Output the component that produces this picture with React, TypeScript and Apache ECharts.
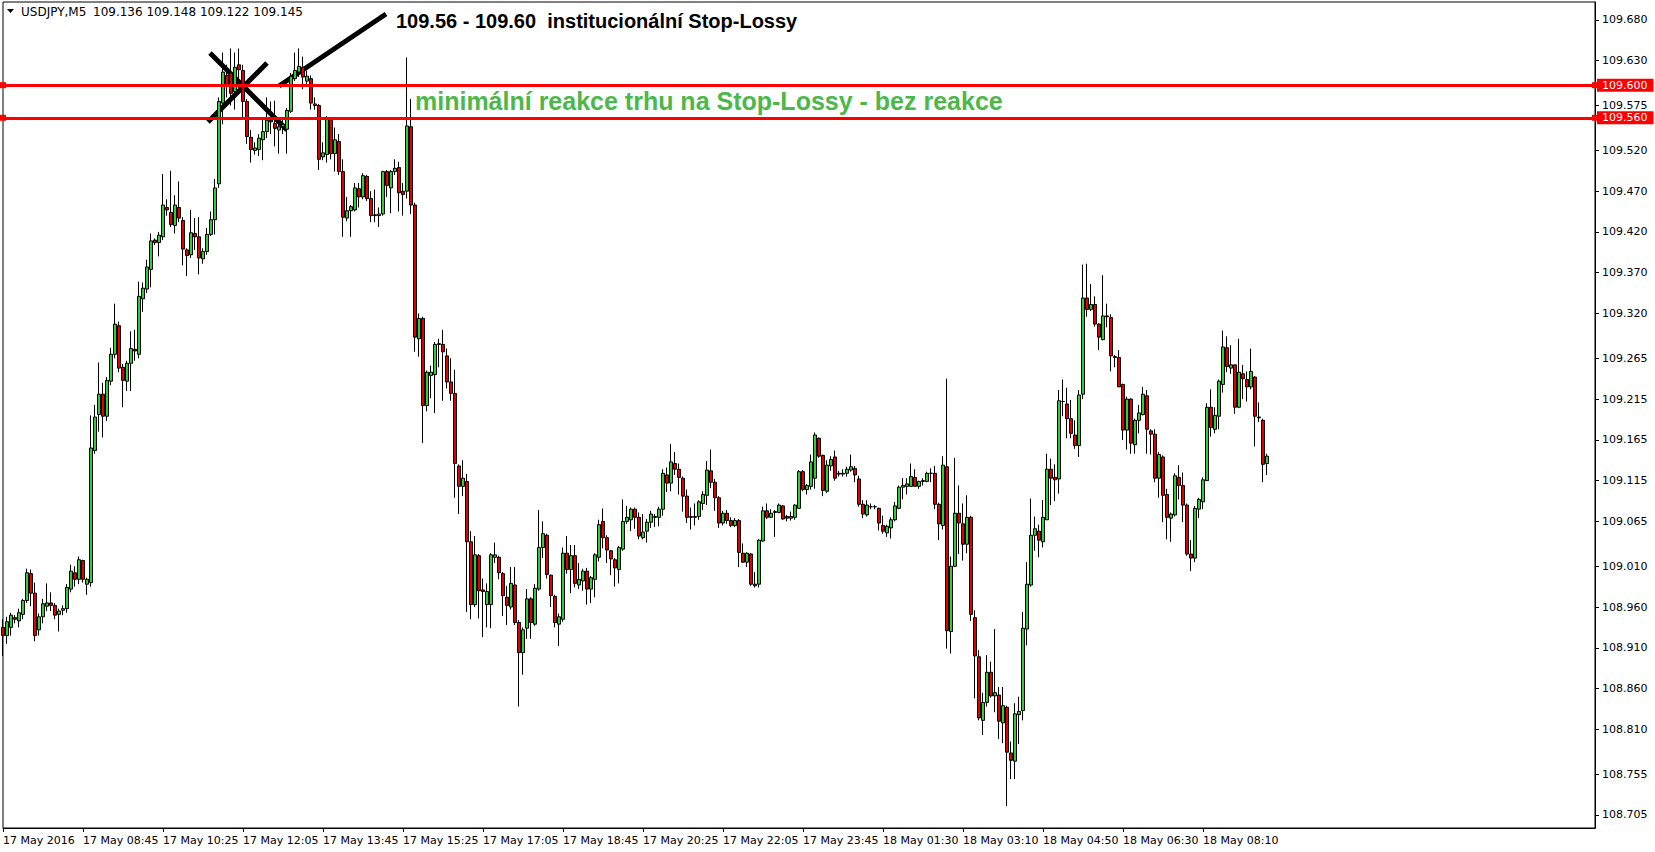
import React, { useEffect, useRef } from "react";
import * as echarts from "echarts";

// [open, close, low, high]
const candles: number[][] = [
  [108.935,108.925,108.900,108.945],[108.925,108.942,108.915,108.948],[108.935,108.950,108.925,108.953],[108.947,108.945,108.940,108.950],
  [108.943,108.953,108.935,108.958],[108.951,108.968,108.945,108.970],[108.968,109.002,108.965,109.007],[109.001,108.977,108.961,109.006],
  [108.977,108.925,108.918,108.990],[108.932,108.948,108.925,108.952],[108.948,108.964,108.940,108.970],[108.961,108.965,108.955,108.989],
  [108.965,108.962,108.955,108.978],[108.962,108.950,108.945,108.965],[108.951,108.955,108.930,108.958],[108.956,108.958,108.950,108.962],
  [108.958,108.984,108.953,108.988],[108.982,109.004,108.978,109.012],[109.002,108.994,108.985,109.010],[108.994,109.018,108.988,109.022],
  [109.017,108.994,108.990,109.018],[108.988,108.994,108.975,108.996],[108.990,109.155,108.985,109.195],[109.152,109.193,109.148,109.208],
  [109.196,109.221,109.175,109.260],[109.221,109.194,109.168,109.235],[109.194,109.238,109.188,109.242],[109.237,109.270,109.232,109.278],
  [109.270,109.307,109.265,109.332],[109.305,109.253,109.248,109.310],[109.254,109.238,109.205,109.258],[109.237,109.259,109.225,109.262],
  [109.259,109.277,109.225,109.298],[109.276,109.274,109.262,109.300],[109.270,109.341,109.265,109.359],[109.338,109.351,109.322,109.358],
  [109.350,109.377,109.345,109.386],[109.374,109.409,109.352,109.418],[109.410,109.407,109.404,109.412],[109.407,109.416,109.390,109.420],
  [109.414,109.453,109.410,109.491],[109.450,109.447,109.440,109.460],[109.444,109.429,109.426,109.495],[109.428,109.453,109.418,109.465],
  [109.450,109.437,109.432,109.482],[109.434,109.399,109.379,109.438],[109.398,109.391,109.366,109.400],[109.392,109.419,109.388,109.447],
  [109.418,109.414,109.398,109.437],[109.414,109.388,109.368,109.438],[109.387,109.396,109.381,109.400],[109.396,109.417,109.392,109.425],
  [109.417,109.435,109.415,109.445],[109.435,109.474,109.417,109.485],[109.479,109.580,109.474,109.585],[109.578,109.616,109.552,109.640],
  [109.612,109.600,109.585,109.625],[109.615,109.590,109.575,109.645],[109.592,109.622,109.570,109.640],[109.625,109.619,109.595,109.645],
  [109.618,109.580,109.560,109.625],[109.580,109.537,109.528,109.583],[109.536,109.521,109.505,109.545],[109.520,109.523,109.515,109.530],
  [109.521,109.535,109.513,109.540],[109.533,109.543,109.508,109.560],[109.543,109.557,109.535,109.585],[109.557,109.555,109.540,109.580],
  [109.553,109.547,109.525,109.581],[109.545,109.549,109.516,109.560],[109.549,109.552,109.540,109.560],[109.546,109.569,109.516,109.572],
  [109.568,109.611,109.566,109.615],[109.608,109.618,109.605,109.640],[109.616,109.623,109.610,109.645],[109.622,109.610,109.595,109.635],
  [109.605,109.611,109.600,109.618],[109.608,109.578,109.570,109.612],[109.577,109.575,109.570,109.585],[109.575,109.509,109.496,109.577],
  [109.512,109.517,109.508,109.530],[109.515,109.558,109.505,109.562],[109.558,109.516,109.509,109.560],[109.516,109.533,109.494,109.548],
  [109.531,109.494,109.490,109.540],[109.494,109.438,109.414,109.509],[109.437,109.446,109.433,109.463],[109.446,109.451,109.414,109.453],
  [109.447,109.474,109.445,109.480],[109.473,109.463,109.450,109.480],[109.463,109.489,109.460,109.492],[109.488,109.461,109.458,109.490],
  [109.461,109.440,109.432,109.470],[109.441,109.440,109.432,109.472],[109.440,109.442,109.426,109.450],[109.442,109.494,109.440,109.495],
  [109.494,109.477,109.463,109.496],[109.474,109.494,109.443,109.496],[109.494,109.498,109.490,109.509],[109.499,109.468,109.445,109.506],
  [109.470,109.466,109.440,109.480],[109.470,109.550,109.461,109.634],[109.549,109.453,109.442,109.583],[109.453,109.291,109.273,109.456],
  [109.289,109.314,109.267,109.320],[109.314,109.207,109.161,109.316],[109.207,109.248,109.200,109.250],[109.244,109.248,109.216,109.256],
  [109.245,109.282,109.198,109.285],[109.282,109.283,109.254,109.289],[109.282,109.273,109.213,109.300],[109.268,109.236,109.228,109.277],
  [109.236,109.222,109.213,109.265],[109.222,109.136,109.094,109.251],[109.133,109.108,109.074,109.135],[109.108,109.118,109.096,109.140],
  [109.114,109.040,108.954,109.123],[109.040,108.963,108.945,109.053],[108.963,109.024,108.960,109.047],[109.023,108.980,108.946,109.025],
  [108.981,108.979,108.923,108.995],[108.963,108.979,108.935,108.989],[108.963,109.024,108.934,109.026],[109.021,109.024,109.014,109.039],
  [109.021,109.002,108.994,109.023],[109.001,108.974,108.949,109.003],[108.972,108.962,108.938,108.986],[108.960,108.989,108.957,109.009],
  [108.987,108.941,108.938,109.009],[108.941,108.904,108.838,108.944],[108.904,108.932,108.877,108.935],[108.934,108.970,108.921,108.982],
  [108.970,108.941,108.921,108.972],[108.939,108.983,108.937,108.988],[108.982,109.033,108.980,109.079],[109.033,109.050,109.020,109.065],
  [109.048,109.000,108.995,109.050],[108.999,108.974,108.960,109.000],[108.973,108.941,108.935,108.975],[108.939,108.948,108.912,108.952],
  [108.945,109.026,108.942,109.033],[109.026,109.006,109.001,109.047],[109.006,109.023,108.977,109.036],[109.023,108.989,108.984,109.036],
  [108.987,108.994,108.982,109.014],[108.992,109.004,108.980,109.007],[109.004,108.982,108.963,109.008],[108.982,108.996,108.965,108.998],
  [108.994,109.024,108.972,109.026],[109.021,109.061,109.016,109.067],[109.065,109.045,109.032,109.081],[109.045,109.030,109.014,109.048],
  [109.029,109.019,108.999,109.030],[109.018,109.008,108.985,109.020],[109.006,109.033,108.989,109.035],[109.031,109.065,109.029,109.092],
  [109.065,109.070,109.062,109.084],[109.067,109.080,109.053,109.082],[109.080,109.070,109.056,109.082],[109.070,109.047,109.043,109.076],
  [109.045,109.052,109.043,109.074],[109.053,109.064,109.039,109.068],[109.064,109.074,109.057,109.078],[109.071,109.070,109.058,109.074],
  [109.070,109.080,109.059,109.083],[109.080,109.124,109.072,109.129],[109.122,109.112,109.101,109.131],[109.112,109.138,109.102,109.160],
  [109.136,109.129,109.122,109.150],[109.129,109.119,109.098,109.136],[109.118,109.096,109.077,109.120],[109.096,109.070,109.063,109.104],
  [109.071,109.070,109.055,109.082],[109.070,109.071,109.060,109.087],[109.071,109.089,109.067,109.091],[109.087,109.098,109.079,109.102],
  [109.097,109.128,109.085,109.139],[109.127,109.113,109.106,109.153],[109.113,109.094,109.078,109.117],[109.094,109.063,109.057,109.096],
  [109.063,109.075,109.060,109.078],[109.075,109.066,109.062,109.079],[109.066,109.060,109.058,109.070],[109.060,109.066,109.058,109.069],
  [109.066,109.027,109.009,109.068],[109.026,109.015,109.014,109.038],[109.015,109.026,109.009,109.027],[109.025,108.988,108.986,109.026],
  [108.988,108.986,108.984,109.003],[108.988,109.042,108.984,109.043],[109.041,109.078,109.040,109.083],[109.078,109.070,109.068,109.087],
  [109.070,109.075,109.069,109.080],[109.076,109.077,109.046,109.079],[109.076,109.085,109.075,109.087],[109.084,109.068,109.067,109.085],
  [109.071,109.069,109.065,109.073],[109.069,109.071,109.066,109.077],[109.070,109.085,109.067,109.086],[109.081,109.126,109.081,109.128],
  [109.126,109.104,109.102,109.128],[109.104,109.109,109.098,109.111],[109.108,109.138,109.104,109.147],[109.118,109.171,109.105,109.174],
  [109.167,109.145,109.143,109.168],[109.146,109.103,109.096,109.147],[109.102,109.134,109.100,109.140],[109.133,109.141,109.127,109.145],
  [109.144,109.118,109.115,109.152],[109.124,109.123,109.120,109.127],[109.123,109.124,109.120,109.129],[109.124,109.129,109.120,109.132],
  [109.128,109.132,109.126,109.147],[109.130,109.122,109.113,109.133],[109.117,109.086,109.083,109.121],[109.086,109.074,109.069,109.091],
  [109.073,109.085,109.071,109.091],[109.083,109.083,109.080,109.087],[109.083,109.083,109.080,109.085],[109.081,109.063,109.054,109.082],
  [109.060,109.053,109.050,109.072],[109.051,109.059,109.046,109.061],[109.057,109.067,109.044,109.070],[109.067,109.084,109.065,109.089],
  [109.081,109.107,109.080,109.109],[109.107,109.109,109.092,109.118],[109.108,109.111,109.098,109.118],[109.108,109.120,109.108,109.136],
  [109.119,109.108,109.108,109.129],[109.108,109.114,109.105,109.115],[109.114,109.115,109.109,109.118],[109.114,109.124,109.113,109.126],
  [109.124,109.124,109.113,109.130],[109.124,109.086,109.080,109.133],[109.086,109.062,109.042,109.088],[109.060,109.134,109.055,109.145],
  [109.132,108.931,108.909,109.240],[108.930,109.010,108.903,109.022],[109.010,109.075,109.009,109.143],[109.075,109.063,109.025,109.109],
  [109.062,109.037,109.017,109.087],[109.037,109.070,109.026,109.097],[109.070,108.951,108.943,109.072],[108.947,108.900,108.848,108.956],
  [108.899,108.824,108.821,108.907],[108.821,108.843,108.803,108.855],[108.843,108.880,108.838,108.901],[108.880,108.851,108.849,108.893],
  [108.851,108.855,108.831,108.933],[108.852,108.820,108.798,108.862],[108.818,108.839,108.793,108.862],[108.837,108.782,108.716,108.839],
  [108.781,108.772,108.749,108.795],[108.771,108.829,108.749,108.842],[108.828,108.832,108.792,108.850],[108.833,108.934,108.821,108.954],
  [108.933,108.988,108.913,109.015],[108.987,109.048,108.985,109.093],[109.048,109.056,109.029,109.071],[109.053,109.042,109.021,109.061],
  [109.040,109.070,109.033,109.091],[109.067,109.129,109.067,109.148],[109.129,109.118,109.085,109.142],[109.119,109.116,109.090,109.135],
  [109.117,109.213,109.099,109.226],[109.212,109.212,109.194,109.239],[109.209,109.191,109.167,109.229],[109.191,109.173,109.167,109.214],
  [109.171,109.158,109.154,109.189],[109.158,109.220,109.144,109.226],[109.221,109.339,109.215,109.380],[109.339,109.325,109.316,109.381],
  [109.325,109.331,109.323,109.356],[109.331,109.307,109.304,109.341],[109.307,109.291,109.275,109.308],[109.288,109.317,109.287,109.367],
  [109.317,109.316,109.303,109.332],[109.315,109.268,109.249,109.319],[109.267,109.266,109.254,109.269],[109.266,109.230,109.230,109.275],
  [109.233,109.177,109.165,109.234],[109.177,109.215,109.153,109.218],[109.215,109.161,109.148,109.216],[109.159,109.189,109.148,109.191],
  [109.189,109.198,109.173,109.208],[109.196,109.221,109.195,109.230],[109.219,109.178,109.148,109.226],[109.176,109.172,109.147,109.178],
  [109.172,109.118,109.113,109.178],[109.118,109.147,109.094,109.150],[109.144,109.097,109.064,109.146],[109.098,109.070,109.043,109.105],
  [109.069,109.074,109.040,109.076],[109.073,109.121,109.071,109.124],[109.119,109.109,109.092,109.134],[109.109,109.085,109.064,109.125],
  [109.085,109.025,109.023,109.087],[109.025,109.020,109.004,109.042],[109.020,109.081,109.015,109.084],[109.080,109.092,109.069,109.094],
  [109.089,109.116,109.080,109.119],[109.115,109.205,109.115,109.210],[109.205,109.180,109.169,109.227],[109.178,109.195,109.173,109.205],
  [109.194,109.237,109.178,109.239],[109.233,109.279,109.223,109.299],[109.278,109.255,109.248,109.292],[109.253,109.257,109.246,109.281],
  [109.257,109.205,109.197,109.257],[109.205,109.248,109.204,109.289],[109.246,109.240,109.215,109.257],[109.239,109.230,109.212,109.249],
  [109.230,109.249,109.227,109.277],[109.242,109.194,109.157,109.243],[109.193,109.192,109.187,109.211],[109.189,109.135,109.113,109.191],
  [109.136,109.145,109.122,109.148],
];

const xTickLabels = [
  "17 May 2016", "17 May 08:45", "17 May 10:25", "17 May 12:05", "17 May 13:45", "17 May 15:25",
  "17 May 17:05", "17 May 18:45", "17 May 20:25", "17 May 22:05", "17 May 23:45", "18 May 01:30",
  "18 May 03:10", "18 May 04:50", "18 May 06:30", "18 May 08:10",
];
const barsPerLabel = 20;
const totalSlots = 399;

const yTickValues = [
  109.680, 109.630, 109.575, 109.520, 109.470, 109.420, 109.370, 109.320, 109.265, 109.215,
  109.165, 109.115, 109.065, 109.010, 108.960, 108.910, 108.860, 108.810, 108.755, 108.705,
];
const yMin = 108.689;
const yMax = 109.702;

const stopLevels = [109.600, 109.560];
const lastPrice = 109.145;
const headerSymbol = "USDJPY,M5";
const headerOHLC = "109.136 109.148 109.122 109.145";
const titleText = "109.56 - 109.60  institucionální Stop-Lossy";
const noteText = "minimální reakce trhu na Stop-Lossy - bez reakce";

const AXIS_FONT = "DejaVu Sans";

const priceLabel = (bg: string) => ({
  show: true,
  position: "end",
  distance: 2,
  backgroundColor: bg,
  color: "#fff",
  padding: [1, 6, 1, 5],
  fontFamily: AXIS_FONT,
  fontSize: 11,
});

export default function App() {
  const ref = useRef<HTMLDivElement>(null);
  useEffect(() => {
    if (!ref.current) return;
    const chart = echarts.init(ref.current, undefined, { renderer: "svg" });
    const categories = Array.from({ length: totalSlots }, (_, i) => String(i));
    const tickShown = (index: number) =>
      index % barsPerLabel === 0 && index / barsPerLabel < xTickLabels.length;

    chart.setOption({
      animation: false,
      backgroundColor: "#ffffff",
      grid: {
        left: 3, right: 60, top: 2, bottom: 24,
        show: true, borderColor: "#000", borderWidth: 1, backgroundColor: "transparent",
      },
      xAxis: {
        type: "category",
        data: categories,
        boundaryGap: false,
        axisLine: { show: true, lineStyle: { color: "#000", width: 1 } },
        axisTick: { show: true, interval: (i: number) => tickShown(i), length: 4, lineStyle: { color: "#000" } },
        axisLabel: {
          show: true,
          interval: (i: number) => tickShown(i),
          formatter: (_v: string, i: number) => xTickLabels[i / barsPerLabel] ?? "",
          align: "left",
          margin: 7,
          color: "#000",
          fontFamily: AXIS_FONT,
          fontSize: 11,
        },
        splitLine: { show: false },
      },
      yAxis: {
        type: "value",
        position: "right",
        min: yMin,
        max: yMax,
        scale: true,
        axisLine: { show: true, onZero: false, lineStyle: { color: "#000", width: 1 } },
        axisTick: { show: true, customValues: yTickValues, length: 4, lineStyle: { color: "#000" } },
        axisLabel: {
          show: true,
          customValues: yTickValues,
          formatter: (v: number) => v.toFixed(3),
          margin: 7,
          color: "#000",
          fontFamily: AXIS_FONT,
          fontSize: 11,
        },
        splitLine: { show: false },
      },
      series: [
        {
          type: "candlestick",
          data: candles,
          barWidth: 3,
          clip: true,
          itemStyle: {
            color: "#32CD32",
            color0: "#E00000",
            borderColor: "#000",
            borderColor0: "#000",
            borderColorDoji: "#000",
            borderWidth: 1,
          },
          markLine: {
            silent: true,
            animation: false,
            symbol: ["rect", "rect"],
            symbolSize: 6,
            lineStyle: { color: "#FF0000", width: 3, type: "solid" },
            data: stopLevels.map((v) => ({
              yAxis: v,
              label: { ...priceLabel("#FF0000"), formatter: () => v.toFixed(3) },
            })),
          },
        },
        {
          type: "line",
          data: [],
          silent: true,
          markLine: {
            silent: true,
            animation: false,
            symbol: ["none", "none"],
            lineStyle: { opacity: 0, width: 0 },
            data: [
              {
                yAxis: lastPrice,
                label: { ...priceLabel("#000"), formatter: () => lastPrice.toFixed(3) },
              },
            ],
          },
        },
      ],
      graphic: [
        { type: "polygon", shape: { points: [[7, 9], [14, 9], [10.5, 13]] }, style: { fill: "#000" } },
        {
          type: "text", x: 21, y: 12,
          style: { text: headerSymbol, font: `12px "${AXIS_FONT}"`, fill: "#000", verticalAlign: "middle" },
        },
        {
          type: "text", x: 93, y: 12,
          style: { text: headerOHLC, font: `12px "${AXIS_FONT}"`, fill: "#000", verticalAlign: "middle" },
        },
        { type: "line", shape: { x1: 210, y1: 53, x2: 287, y2: 130 }, style: { stroke: "#000", lineWidth: 5 } },
        { type: "line", shape: { x1: 208, y1: 122, x2: 267, y2: 63 }, style: { stroke: "#000", lineWidth: 5 } },
        { type: "line", shape: { x1: 279, y1: 86, x2: 386, y2: 14 }, style: { stroke: "#000", lineWidth: 5 } },
        {
          type: "text", x: 396, y: 21,
          style: { text: titleText, font: 'bold 20px "Liberation Sans"', fill: "#000", verticalAlign: "middle" },
        },
        {
          type: "text", x: 415, y: 101,
          style: { text: noteText, font: 'bold 25px "Liberation Sans"', fill: "#4CB849", verticalAlign: "middle" },
        },
      ],
    });
    return () => chart.dispose();
  }, []);
  return (
    <div
      ref={ref}
      style={{ position: "fixed", left: 0, top: 0, width: 1655, height: 852, background: "#fff" }}
    />
  );
}
